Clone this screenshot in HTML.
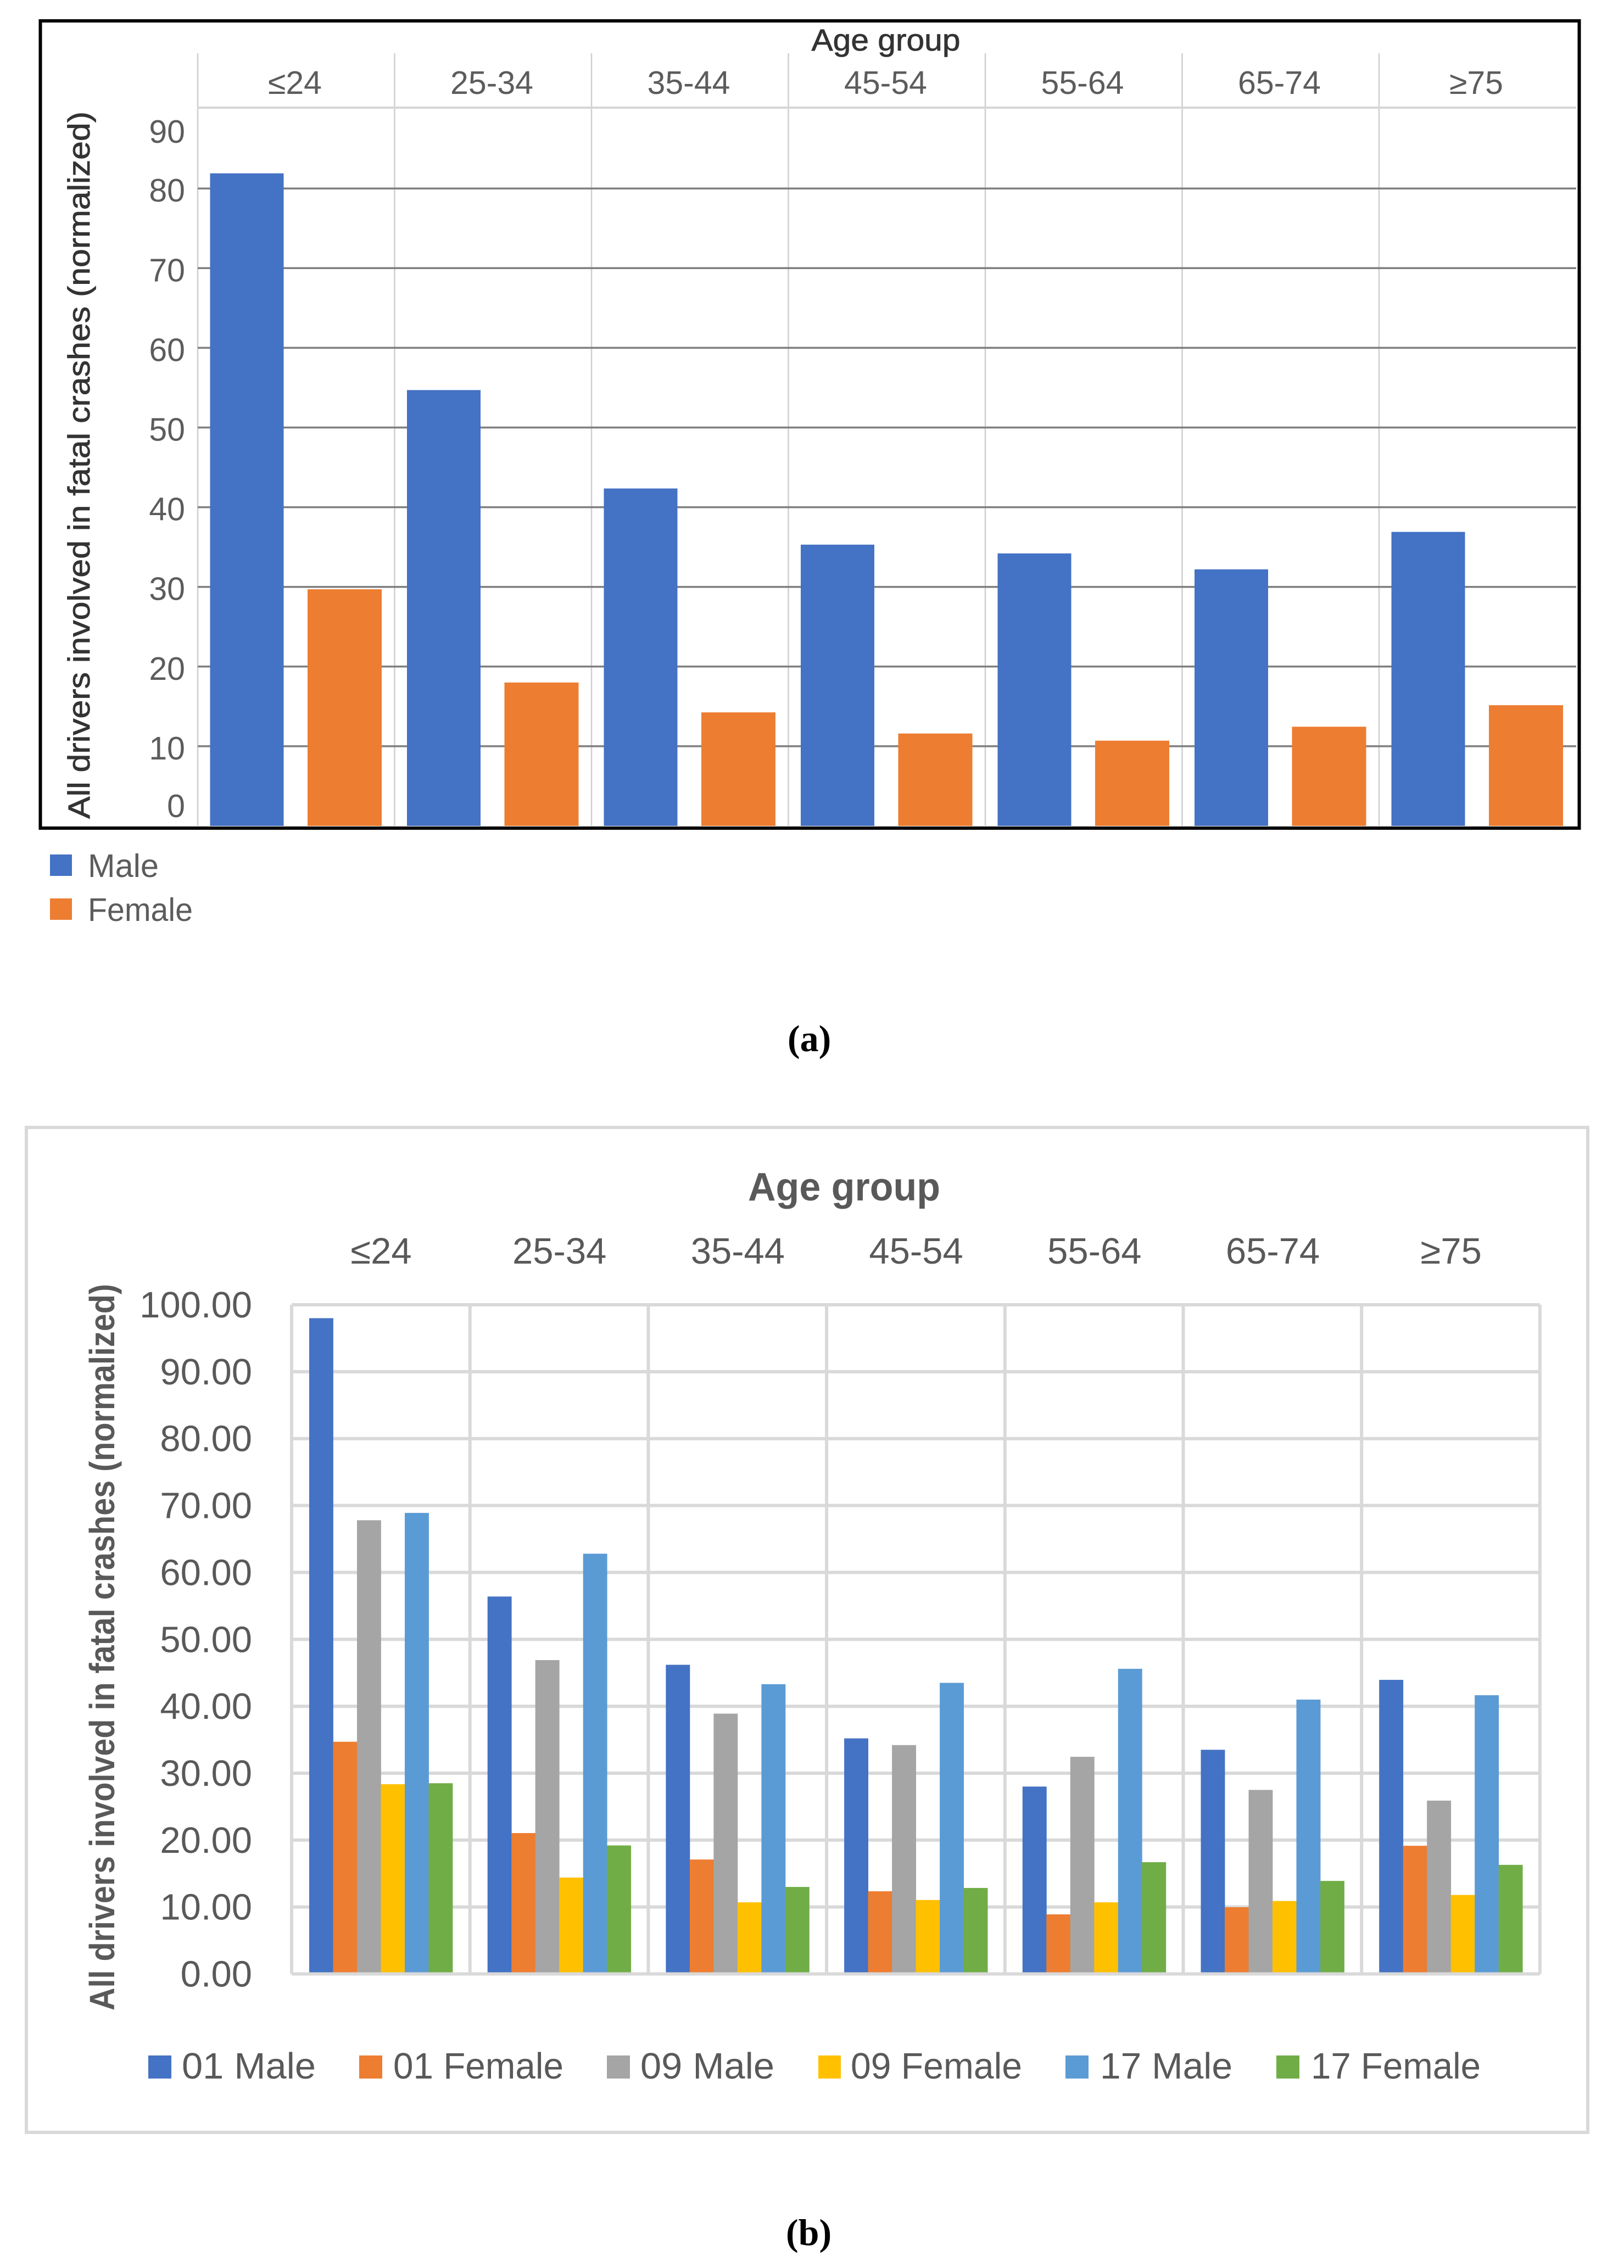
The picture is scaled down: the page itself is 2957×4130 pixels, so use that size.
<!DOCTYPE html>
<html lang="en">
<head>
<meta charset="utf-8">
<title>Drivers involved in fatal crashes by age group</title>
<style>
html,body{margin:0;padding:0;background:#fff;}
svg{display:block;}
text{font-family:"Liberation Sans",sans-serif;}
.a-label{font-size:59px;fill:#5c5c5c;}
.b-label{font-size:67px;fill:#595959;}
.caption{font-family:"Liberation Serif",serif;font-weight:bold;font-size:68px;fill:#000;}
</style>
</head>
<body>
<svg id="figure" xmlns="http://www.w3.org/2000/svg" width="2957" height="4130" viewBox="0 0 2957 4130">
  <rect x="0" y="0" width="2957" height="4130" fill="#ffffff"/>

  <g id="chart-a">
    <text x="1613" y="92" text-anchor="middle" font-size="56" fill="#333333" stroke="#333333" stroke-width="0.8" textLength="271" lengthAdjust="spacingAndGlyphs">Age group</text>
    <text transform="translate(163,1491) rotate(-90)" font-size="56" fill="#333333" stroke="#333333" stroke-width="0.8" textLength="1288" lengthAdjust="spacingAndGlyphs">All drivers involved in fatal crashes (normalized)</text>
    <g>
      <rect x="91" y="1556" width="40" height="39" fill="#4472C4"/>
      <text class="a-label" x="160" y="1597" textLength="129" lengthAdjust="spacingAndGlyphs">Male</text>
      <rect x="91" y="1636" width="40" height="39" fill="#ED7D31"/>
      <text class="a-label" x="160" y="1677" textLength="191" lengthAdjust="spacingAndGlyphs">Female</text>
    </g>
    <text class="caption" x="1434" y="1914">(a)</text>
  </g>

  <g id="chart-b">
    <rect x="48" y="2053" width="2843" height="1830" fill="#ffffff" stroke="#d9d9d9" stroke-width="6"/>
    <text x="1537" y="2186" text-anchor="middle" font-size="72" font-weight="bold" fill="#595959" textLength="350" lengthAdjust="spacingAndGlyphs">Age group</text>
    <text transform="translate(208,3661) rotate(-90)" font-size="64" font-weight="bold" fill="#595959" textLength="1323" lengthAdjust="spacingAndGlyphs">All drivers involved in fatal crashes (normalized)</text>
    <g>
      <rect x="270" y="3743" width="42" height="42" fill="#4472C4"/>
      <text class="b-label" x="331" y="3785" textLength="244" lengthAdjust="spacingAndGlyphs">01 Male</text>
      <rect x="654" y="3743" width="42" height="42" fill="#ED7D31"/>
      <text class="b-label" x="716" y="3785" textLength="310" lengthAdjust="spacingAndGlyphs">01 Female</text>
      <rect x="1105" y="3743" width="42" height="42" fill="#A5A5A5"/>
      <text class="b-label" x="1166" y="3785" textLength="244" lengthAdjust="spacingAndGlyphs">09 Male</text>
      <rect x="1490" y="3743" width="41" height="42" fill="#FFC000"/>
      <text class="b-label" x="1549" y="3785" textLength="312" lengthAdjust="spacingAndGlyphs">09 Female</text>
      <rect x="1940" y="3743" width="42" height="42" fill="#5B9BD5"/>
      <text class="b-label" x="2003" y="3785" textLength="241" lengthAdjust="spacingAndGlyphs">17 Male</text>
      <rect x="2324" y="3743" width="42" height="42" fill="#70AD47"/>
      <text class="b-label" x="2387" y="3785" textLength="309" lengthAdjust="spacingAndGlyphs">17 Female</text>
    </g>
    <text class="caption" x="1431" y="4088">(b)</text>
  </g>
</svg>

<script>
// Shared categories
const categories = ['≤24', '25-34', '35-44', '45-54', '55-64', '65-74', '≥75'];

// Chart (a) data
const aTicks = [0, 10, 20, 30, 40, 50, 60, 70, 80, 90];
const aMale = [81.9, 54.7, 42.35, 35.3, 34.2, 32.2, 36.9];
const aFemale = [29.7, 18.0, 14.25, 11.6, 10.7, 12.45, 15.15];

// Chart (b) data
const bTicks = [0, 10, 20, 30, 40, 50, 60, 70, 80, 90, 100];
const b01Male = [98.0, 56.4, 46.2, 35.2, 28.0, 33.5, 43.95];
const b01Female = [34.7, 21.05, 17.1, 12.35, 8.9, 9.97, 19.15];
const b09Male = [67.8, 46.9, 38.9, 34.2, 32.45, 27.5, 25.9];
const b09Female = [28.35, 14.4, 10.7, 11.05, 10.7, 10.9, 11.8];
const b17Male = [68.9, 62.8, 43.3, 43.5, 45.6, 41.0, 41.65];
const b17Female = [28.5, 19.2, 13.0, 12.85, 16.7, 13.9, 16.3];

const NS = 'http://www.w3.org/2000/svg';
function mk(tag, attrs, parent) {
  const el = document.createElementNS(NS, tag);
  for (const k in attrs) el.setAttribute(k, attrs[k]);
  parent.appendChild(el);
  return el;
}
const chartA = document.getElementById('chart-a');
const chartB = document.getElementById('chart-b');

/* ---------- Chart (a) ---------- */
const aY = v => 1504 - 14.51 * v;
const aBand = i => 360 + 358.5 * i;
const aLayer = mk('g', {}, chartA);



for (let i = 0; i < categories.length; i++) {
  const vline = mk('line', {x1: aBand(i), x2: aBand(i), y1: 97, y2: 1504, stroke: '#cfcfd2', 'stroke-width': 2.5}, aLayer);
  
  
}
const header = mk('line', {x1: 360, x2: 2870, y1: 196, y2: 196, stroke: '#d6d6d6', 'stroke-width': 4}, aLayer);



aTicks.forEach(t => {
  if (t > 0 && t < 90) {
    const g = mk('line', {x1: 360, x2: 2870, y1: aY(t), y2: aY(t), stroke: '#7f7f7f', 'stroke-width': 3.5}, aLayer);
    
    
  }
  const cy = Math.max(240, Math.min(1468, aY(t) + 4));
  const lab = mk('text', {x: 337, y: cy + 20, 'text-anchor': 'end', class: 'a-label'}, aLayer);
  lab.textContent = String(t);
  
  
});

categories.forEach((c, i) => {
  const lab = mk('text', {x: aBand(i) + 177, y: 171, 'text-anchor': 'middle', class: 'a-label'}, aLayer);
  lab.textContent = c;
  
  

  const m = mk('rect', {x: aBand(i) + 22.5, y: aY(aMale[i]), width: 134, height: aY(0) - aY(aMale[i]), fill: '#4472C4'}, aLayer);
  
  

  const f = mk('rect', {x: aBand(i) + 200, y: aY(aFemale[i]), width: 135, height: aY(0) - aY(aFemale[i]), fill: '#ED7D31'}, aLayer);
  
  
});

const aFrame = mk('rect', {x: 73.5, y: 38, width: 2802, height: 1470, fill: 'none', stroke: '#000000', 'stroke-width': 6}, chartA);



/* ---------- Chart (b) ---------- */
const bY = v => 3594.5 - 12.185 * v;
const bBand = i => 531 + 324.7 * i;
const bSeries = [b01Male, b01Female, b09Male, b09Female, b17Male, b17Female];
const bSeriesNames = ['01-male', '01-female', '09-male', '09-female', '17-male', '17-female'];
const bColors = ['#4472C4', '#ED7D31', '#A5A5A5', '#FFC000', '#5B9BD5', '#70AD47'];
const bLayer = mk('g', {}, chartB);



for (let i = 0; i <= categories.length; i++) {
  const vline = mk('line', {x1: bBand(i), x2: bBand(i), y1: bY(100), y2: bY(0), stroke: '#d9d9d9', 'stroke-width': 6}, bLayer);
  
  
}
bTicks.forEach(t => {
  const g = mk('line', {x1: bBand(0), x2: bBand(categories.length), y1: bY(t), y2: bY(t), stroke: '#d9d9d9', 'stroke-width': 6}, bLayer);
  
  

  const lab = mk('text', {x: 459, y: bY(t) + 23, 'text-anchor': 'end', class: 'b-label'}, bLayer);
  lab.textContent = t.toFixed(2);
  
  
});
categories.forEach((c, i) => {
  const lab = mk('text', {x: bBand(i) + 163, y: 2301, 'text-anchor': 'middle', class: 'b-label'}, bLayer);
  lab.textContent = c;
  
  

  bSeries.forEach((s, k) => {
    const bar = mk('rect', {x: bBand(i) + 32 + 43.5 * k, y: bY(s[i]), width: 43.9, height: bY(0) - 3 - bY(s[i]), fill: bColors[k]}, bLayer);
    
    
  });
});
</script>
</body>
</html>
